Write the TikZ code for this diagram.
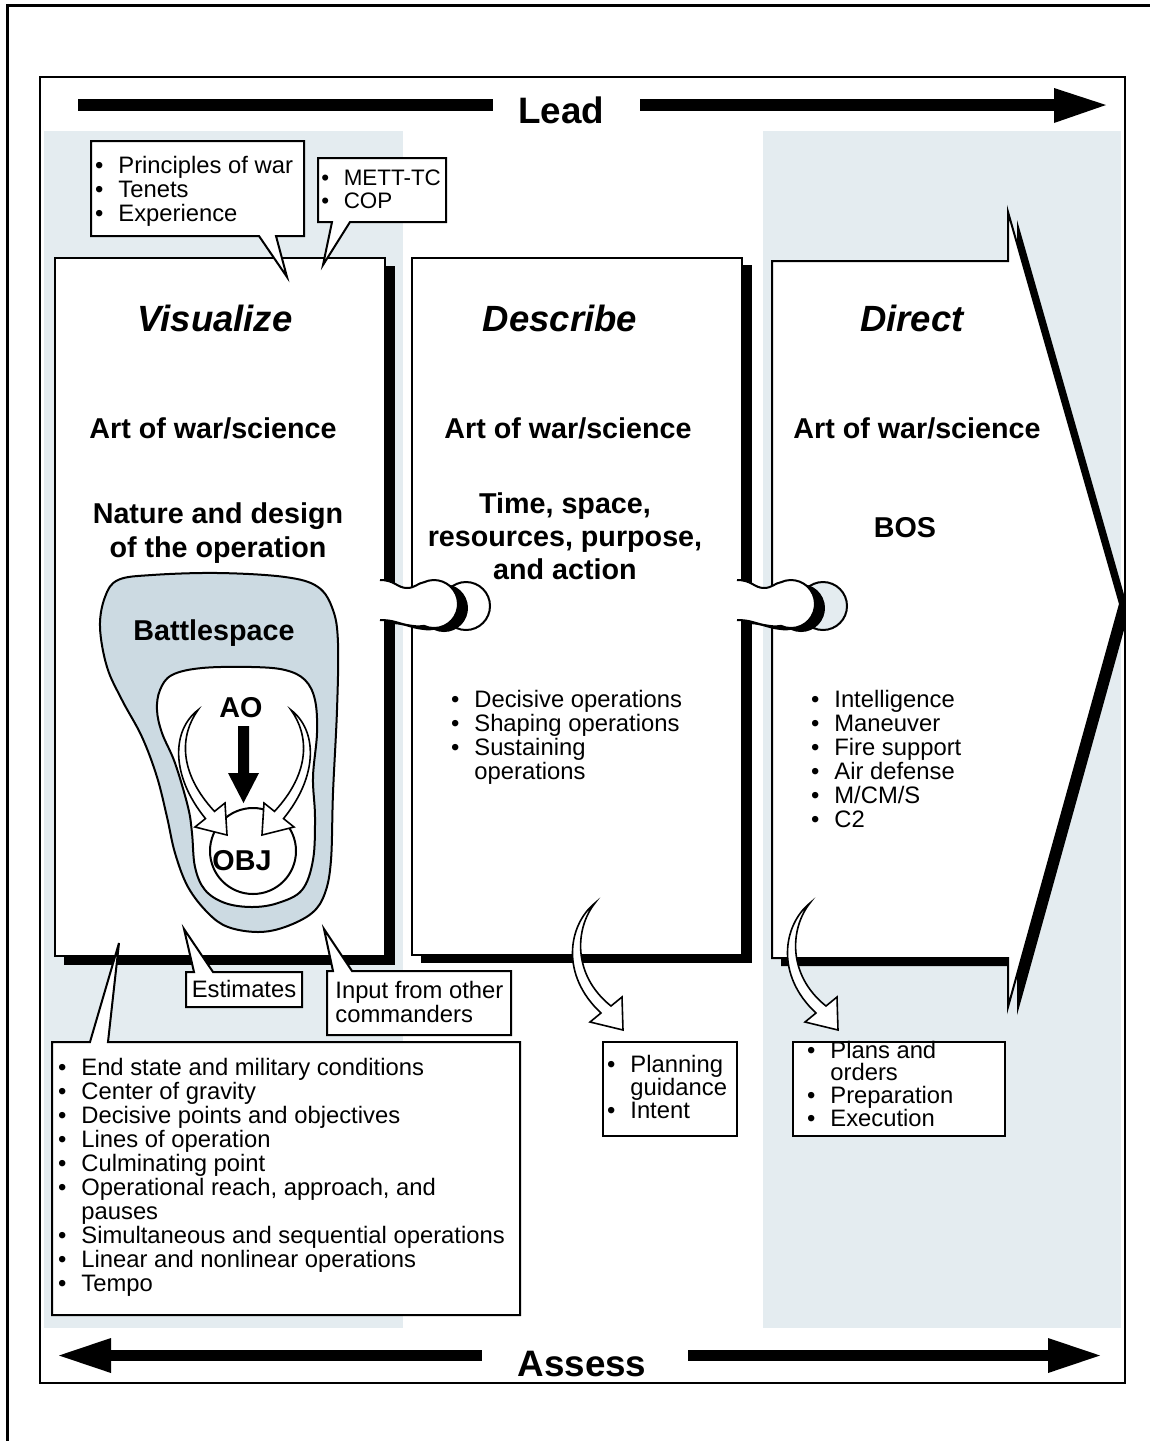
\documentclass[tikz,border=0pt]{standalone}
\usepackage{fontspec}
\setmainfont{Liberation Sans}
\definecolor{colbg}{RGB}{228,236,240}
\definecolor{bspace}{RGB}{204,218,226}
\newcommand\fTitle{\fontsize{18.25pt}{20pt}\selectfont\bfseries\itshape}
\newcommand\fBold[1]{\fontsize{14.35pt}{#1}\selectfont\bfseries}
\newcommand\fNorm[1]{\fontsize{11.9pt}{#1}\selectfont}
\newcommand\fBig{\fontsize{18.4pt}{20pt}\selectfont\bfseries}
\newcommand\bul{\makebox[11.6pt][l]{\textbullet}}
\newcommand\ind{\hspace*{11.6pt}}
\newcommand\Lleft[1]{\vtop{\halign{##\hfil\cr#1\crcr}}}
\newcommand\Lcent[1]{\vtop{\halign{\hfil##\hfil\cr#1\crcr}}}
\newcommand\knobpath{(-5,580) .. controls (10,580) and (12,588) .. (22,588) .. controls (30,588) and (33,583) .. (39,582.2) arc[start angle=245.4,end angle=474.6,radius=24] .. controls (33,627) and (28,626) .. (22,625) .. controls (12,623) and (8,620) .. (-5,620)}
\newcommand\knob[2]{%
  \begin{scope}[shift={(#1,0)}]
    \draw[ln,fill=#2] (81,606) circle[radius=24];
    \fill[shift={(10,4)}] \knobpath -- cycle;
    \fill[white] \knobpath -- cycle;
    \draw[ln] \knobpath;
  \end{scope}}
\begin{document}
\begin{tikzpicture}[x=0.5pt,y=-0.5pt,
  ln/.style={line width=1pt,line join=miter,miter limit=10},
  boxw/.style={ln,fill=white,draw=black},
  ttl/.style={font=\fTitle,inner sep=0pt,anchor=base},
  hd/.style={inner sep=0pt,anchor=base},
  lst/.style={inner sep=0pt,anchor=base west},
  callout/.style={ln,fill=white,draw=black},
  hollow/.style={line width=0.8pt,fill=white,draw=black,line join=miter,miter limit=10},
]
\useasboundingbox (0,0) rectangle (1150,1441);
% page frame
\draw[line width=1.5pt] (7,1441) -- (7,5) -- (1150,5);
% shaded columns
\fill[colbg] (44,131) rectangle (403,1328);
\fill[colbg] (763,131) rectangle (1121,1328);

% Lead arrow
\fill (78,99) rectangle (493,111);
\fill (640,99) rectangle (1054,111);
\fill (1054,88) -- (1106,105) -- (1054,123) -- cycle;
\node[hd,font=\fBig] (lead) at (561,123) {Lead};
% Assess arrow
\fill (111,1350) rectangle (482,1361);
\fill (688,1350) rectangle (1048,1361);
\fill (111,1338) -- (59,1355.5) -- (111,1373) -- cycle;
\fill (1048,1338) -- (1100,1355.5) -- (1048,1373) -- cycle;
\node[hd,font=\fBig] (assess) at (582,1376) {Assess};

% shadows of the three panels
\fill (64,266) rectangle (395,965);
\fill (421,265) rectangle (752,963);
\begin{scope}
  \clip (0,0) rectangle (1124,1441);
  \fill[shift={(9,8)}] (772,261) -- (1008,261) -- (1008,212) -- (1120,604) -- (1008,1007) -- (1008,958) -- (772,958) -- cycle;
\end{scope}
% inner frame
\draw[line width=1pt] (40,77) rectangle (1125,1383);

% panels
\draw[boxw] (55,258) rectangle (385,956);
\draw[boxw] (412,258) rectangle (742,955);
\draw[boxw] (772,261) -- (1008,261) -- (1008,212) -- (1120,604) -- (1008,1007) -- (1008,958) -- (772,958) -- cycle;

% knobs
\knob{385}{white}
\knob{742}{colbg}

% callouts
\draw[callout] (91,141) -- (304,141) -- (304,236) -- (276,236) -- (287,277) -- (259,236) -- (91,236) -- cycle;
\draw[callout] (318,158) -- (446,158) -- (446,222) -- (350,222) -- (323,265) -- (332,222) -- (318,222) -- cycle;
\draw[callout] (186,972) -- (194,972) -- (184,929) -- (213,972) -- (302,972) -- (302,1007) -- (186,1007) -- cycle;
\draw[callout] (327,971) -- (333,971) -- (324,929) -- (352,971) -- (511,971) -- (511,1035) -- (327,1035) -- cycle;
\draw[callout] (52,1042) -- (90,1042) -- (119,943) -- (108,1042) -- (520,1042) -- (520,1315) -- (52,1315) -- cycle;
\draw[callout] (603,1042) rectangle (737,1136);
\draw[callout] (793,1042) rectangle (1005,1136);

% Battlespace
\draw[ln,fill=bspace] plot[smooth cycle,tension=0.6] coordinates {
  (105,597) (118,580) (152,575) (218,573) (285,577) (318,587) (333,610) (338,643)
  (337,710) (333,793) (331,860) (325,893) (312,913) (285,927) (258,932) (228,927)
  (208,913) (188,887) (175,853) (167,817) (157,777) (142,737) (122,700) (107,667) (100,627)};
\draw[ln,fill=white] plot[smooth cycle,tension=0.6] coordinates {
  (160,690) (172,675) (202,668) (252,667) (285,670) (305,680) (315,700) (317,733)
  (313,777) (315,817) (313,860) (302,890) (278,903) (252,907) (225,903) (205,890)
  (195,867) (192,833) (188,807) (175,763) (162,733) (157,710)};
\draw[ln,fill=white] (253,851) circle[radius=43];
% black arrow
\fill (238,726) -- (249,726) -- (249,773) -- (259,773) -- (243.5,803) -- (228,773) -- (238,773) -- cycle;
% hollow arrows inside
\draw[hollow] (198,710) .. controls (172,730) and (170,775) .. (205.5,818.6) -- (195,827) -- (227,835) -- (225,803) -- (214.5,811.4) .. controls (178,772) and (180,735) .. (198,710) -- cycle;
\draw[hollow] (291,710) .. controls (317,730) and (319,775) .. (283.5,818.6) -- (294,827) -- (262,835) -- (264,803) -- (274.5,811.4) .. controls (311,772) and (309,735) .. (291,710) -- cycle;

% output hollow arrows
\draw[hollow] (595,903) .. controls (568,925) and (560,975) .. (601,1013) -- (590,1022) -- (623,1030) -- (622,997) -- (611,1006) .. controls (572,975) and (575,928) .. (595,903) -- cycle;
\draw[hollow] (810,903) .. controls (783,925) and (775,975) .. (816,1013) -- (805,1022) -- (838,1030) -- (837,997) -- (826,1006) .. controls (787,975) and (790,928) .. (810,903) -- cycle;

% titles
\node[ttl] (tvis) at (215,331) {Visualize};
\node[ttl] (tdes) at (560,331) {Describe};
\node[ttl] (tdir) at (912,331) {Direct};
\node[hd,font=\fBold{17pt}] (art1) at (213,438) {Art of war/science};
\node[hd,font=\fBold{17pt}] (art2) at (568,438) {Art of war/science};
\node[hd,font=\fBold{17pt}] (art3) at (917,438) {Art of war/science};
\node[hd,font=\fBold{17pt}] (nature) at (218,523) {\Lcent{Nature and design\cr of the operation}};
\node[hd,font=\fBold{16.5pt}] (tsr) at (565,513) {\Lcent{Time, space,\cr resources, purpose,\cr and action}};
\node[hd,font=\fBold{17pt}] (bos) at (905,537) {BOS};
\node[hd,font=\fBold{17pt}] (bsp) at (214,640) {Battlespace};
\node[hd,font=\fBold{17pt}] (ao) at (241,717) {AO};
\node[hd,font=\fBold{17pt}] (obj) at (242,870) {OBJ};

% lists
\node[lst,font=\fNorm{12pt}] (lprin) at (94.8,173) {\Lleft{\bul Principles of war\cr\bul Tenets\cr\bul Experience}};
\node[lst,font=\fontsize{11.2pt}{11.6pt}\selectfont] (lmett) at (321,185) {\Lleft{\makebox[11.2pt][l]{\textbullet}METT-TC\cr\makebox[11.2pt][l]{\textbullet}COP}};
\node[hd,font=\fNorm{12pt}] (lest) at (244,997) {Estimates};
\node[lst,font=\fNorm{12pt}] (linput) at (335,998) {\Lleft{Input from other\cr commanders}};
\node[lst,font=\fNorm{12pt}] (lbig) at (57.8,1075) {\Lleft{\bul End state and military conditions\cr\bul Center of gravity\cr\bul Decisive points and objectives\cr\bul Lines of operation\cr\bul Culminating point\cr\bul Operational reach, approach, and\cr\ind pauses\cr\bul Simultaneous and sequential operations\cr\bul Linear and nonlinear operations\cr\bul Tempo}};
\node[lst,font=\fNorm{12pt}] (ldes) at (450.8,707) {\Lleft{\bul Decisive operations\cr\bul Shaping operations\cr\bul Sustaining\cr\ind operations}};
\node[lst,font=\fNorm{12pt}] (ldir) at (810.8,707) {\Lleft{\bul Intelligence\cr\bul Maneuver\cr\bul Fire support\cr\bul Air defense\cr\bul M/CM/S\cr\bul C2}};
\node[lst,font=\fNorm{11.5pt}] (lplan) at (606.8,1072) {\Lleft{\bul Planning\cr\ind guidance\cr\bul Intent}};
\node[lst,font=\fNorm{11.35pt}] (lplans) at (806.8,1058) {\Lleft{\bul Plans and\cr\ind orders\cr\bul Preparation\cr\bul Execution}};
\end{tikzpicture}
\end{document}
